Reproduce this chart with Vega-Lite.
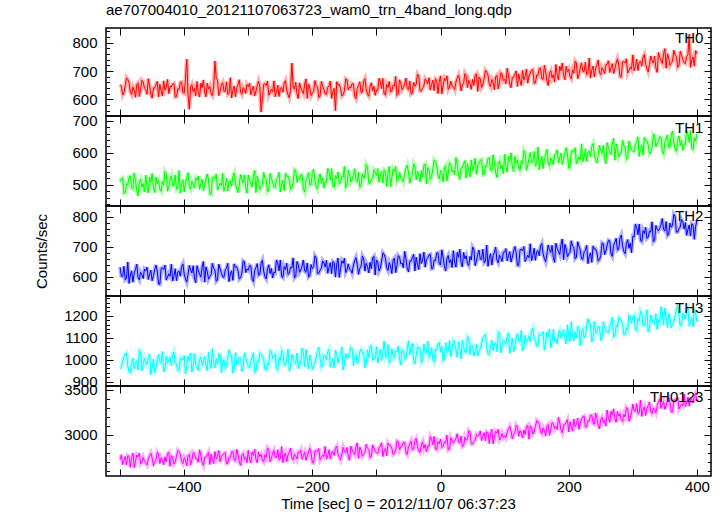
{
"$schema": "https://vega.github.io/schema/vega-lite/v6.json",
"padding": {"left": 34, "top": 2, "right": 5, "bottom": 2},
"spacing": 0,
"bounds": "flush",
"config": {
  "view": {"stroke": "#000", "strokeWidth": 1.5},
  "axis": {"domain": false, "grid": false, "format": "d", "labelFont": "Liberation Sans", "labelFontSize": 15, "labelColor": "#000", "tickColor": "#000", "tickWidth": 1, "labelOverlap": false, "labelFlush": false, "titleFont": "Liberation Sans", "titleFontSize": 15, "titleFontWeight": "normal", "titleColor": "#000"},
  "title": {"font": "Liberation Sans", "fontSize": 15, "fontWeight": "normal", "color": "#000"}
},
"data": {"values": [
{"t":-500,"a":652,"b":510,"c":632,"d":958,"e":2726},
{"t":-496,"a":615,"b":522,"c":601,"d":993,"e":2673},
{"t":-492,"a":648,"b":475,"c":590,"d":1025,"e":2760},
{"t":-488,"a":670,"b":501,"c":649,"d":971,"e":2770},
{"t":-484,"a":626,"b":527,"c":606,"d":940,"e":2640},
{"t":-480,"a":643,"b":487,"c":582,"d":1006,"e":2798},
{"t":-476,"a":607,"b":513,"c":625,"d":988,"e":2710},
{"t":-472,"a":658,"b":466,"c":598,"d":953,"e":2756},
{"t":-468,"a":634,"b":518,"c":615,"d":1037,"e":2678},
{"t":-464,"a":662,"b":504,"c":594,"d":979,"e":2750},
{"t":-460,"a":634,"b":530,"c":620,"d":989,"e":2692},
{"t":-456,"a":673,"b":475,"c":591,"d":1009,"e":2734},
{"t":-452,"a":617,"b":508,"c":622,"d":932,"e":2796},
{"t":-448,"a":640,"b":491,"c":604,"d":1002,"e":2656},
{"t":-444,"a":652,"b":524,"c":639,"d":963,"e":2724},
{"t":-440,"a":608,"b":513,"c":576,"d":1023,"e":2786},
{"t":-436,"a":629,"b":480,"c":628,"d":984,"e":2749},
{"t":-432,"a":665,"b":499,"c":624,"d":945,"e":2669},
{"t":-428,"a":643,"b":535,"c":589,"d":1015,"e":2704},
{"t":-424,"a":620,"b":494,"c":610,"d":997,"e":2806},
{"t":-420,"a":644,"b":528,"c":642,"d":973,"e":2770},
{"t":-416,"a":656,"b":497,"c":601,"d":1034,"e":2678},
{"t":-412,"a":609,"b":486,"c":587,"d":980,"e":2760},
{"t":-408,"a":635,"b":545,"c":619,"d":952,"e":2815},
{"t":-404,"a":661,"b":502,"c":634,"d":1002,"e":2705},
{"t":-400,"a":621,"b":478,"c":609,"d":1018,"e":2748},
{"t":-396,"a":742,"b":521,"c":582,"d":968,"e":2658},
{"t":-392,"a":565,"b":494,"c":638,"d":994,"e":2785},
{"t":-388,"a":652,"b":511,"c":613,"d":944,"e":2725},
{"t":-384,"a":638,"b":490,"c":596,"d":1027,"e":2795},
{"t":-380,"a":663,"b":515,"c":637,"d":968,"e":2737},
{"t":-376,"a":608,"b":486,"c":609,"d":999,"e":2835},
{"t":-372,"a":641,"b":517,"c":633,"d":974,"e":2695},
{"t":-368,"a":624,"b":499,"c":582,"d":1014,"e":2752},
{"t":-364,"a":657,"b":534,"c":618,"d":950,"e":2782},
{"t":-360,"a":646,"b":471,"c":601,"d":985,"e":2672},
{"t":-356,"a":613,"b":523,"c":645,"d":1050,"e":2725},
{"t":-352,"a":735,"b":519,"c":623,"d":962,"e":2815},
{"t":-348,"a":668,"b":484,"c":590,"d":978,"e":2759},
{"t":-344,"a":627,"b":505,"c":627,"d":1024,"e":2702},
{"t":-340,"a":659,"b":536,"c":600,"d":989,"e":2772},
{"t":-336,"a":628,"b":495,"c":623,"d":958,"e":2802},
{"t":-332,"a":617,"b":481,"c":645,"d":1011,"e":2684},
{"t":-328,"a":676,"b":513,"c":609,"d":1017,"e":2749},
{"t":-324,"a":633,"b":528,"c":588,"d":939,"e":2814},
{"t":-320,"a":609,"b":503,"c":632,"d":1033,"e":2714},
{"t":-316,"a":652,"b":476,"c":620,"d":981,"e":2779},
{"t":-312,"a":625,"b":532,"c":597,"d":1007,"e":2662},
{"t":-308,"a":642,"b":507,"c":653,"d":961,"e":2792},
{"t":-304,"a":621,"b":490,"c":614,"d":1005,"e":2756},
{"t":-300,"a":645,"b":531,"c":622,"d":967,"e":2827},
{"t":-296,"a":616,"b":503,"c":636,"d":993,"e":2690},
{"t":-292,"a":647,"b":527,"c":584,"d":1031,"e":2772},
{"t":-288,"a":629,"b":476,"c":631,"d":947,"e":2730},
{"t":-284,"a":664,"b":512,"c":605,"d":987,"e":2812},
{"t":-280,"a":555,"b":495,"c":645,"d":1025,"e":2784},
{"t":-276,"a":653,"b":539,"c":619,"d":1002,"e":2702},
{"t":-272,"a":649,"b":517,"c":593,"d":954,"e":2750},
{"t":-268,"a":614,"b":484,"c":640,"d":975,"e":2840},
{"t":-264,"a":635,"b":521,"c":628,"d":1037,"e":2737},
{"t":-260,"a":665,"b":494,"c":615,"d":1015,"e":2829},
{"t":-256,"a":624,"b":517,"c":656,"d":959,"e":2751},
{"t":-252,"a":610,"b":539,"c":620,"d":1009,"e":2723},
{"t":-248,"a":642,"b":503,"c":601,"d":1042,"e":2871},
{"t":-244,"a":657,"b":482,"c":634,"d":976,"e":2763},
{"t":-240,"a":632,"b":526,"c":645,"d":1002,"e":2703},
{"t":-236,"a":605,"b":514,"c":612,"d":947,"e":2811},
{"t":-232,"a":728,"b":491,"c":629,"d":1024,"e":2743},
{"t":-228,"a":636,"b":547,"c":596,"d":988,"e":2786},
{"t":-224,"a":619,"b":508,"c":651,"d":1030,"e":2733},
{"t":-220,"a":658,"b":516,"c":615,"d":994,"e":2802},
{"t":-216,"a":630,"b":530,"c":636,"d":1052,"e":2730},
{"t":-212,"a":654,"b":478,"c":619,"d":968,"e":2808},
{"t":-208,"a":603,"b":525,"c":646,"d":1003,"e":2762},
{"t":-204,"a":639,"b":499,"c":603,"d":1021,"e":2850},
{"t":-200,"a":622,"b":539,"c":627,"d":955,"e":2692},
{"t":-196,"a":666,"b":513,"c":670,"d":986,"e":2822},
{"t":-192,"a":644,"b":487,"c":611,"d":1040,"e":2812},
{"t":-188,"a":611,"b":534,"c":622,"d":1008,"e":2725},
{"t":-184,"a":648,"b":522,"c":653,"d":973,"e":2778},
{"t":-180,"a":619,"b":510,"c":633,"d":1018,"e":2872},
{"t":-176,"a":642,"b":551,"c":612,"d":1036,"e":2770},
{"t":-172,"a":664,"b":515,"c":647,"d":966,"e":2735},
{"t":-168,"a":628,"b":496,"c":651,"d":1005,"e":2815},
{"t":-164,"a":560,"b":529,"c":599,"d":1044,"e":2852},
{"t":-160,"a":651,"b":540,"c":662,"d":984,"e":2790},
{"t":-156,"a":639,"b":507,"c":627,"d":1023,"e":2722},
{"t":-152,"a":616,"b":524,"c":645,"d":953,"e":2862},
{"t":-148,"a":672,"b":491,"c":614,"d":1030,"e":2800},
{"t":-144,"a":633,"b":546,"c":643,"d":1010,"e":2758},
{"t":-140,"a":640,"b":509,"c":622,"d":1056,"e":2876},
{"t":-136,"a":654,"b":530,"c":639,"d":973,"e":2806},
{"t":-132,"a":602,"b":513,"c":664,"d":1023,"e":2866},
{"t":-128,"a":649,"b":540,"c":608,"d":997,"e":2739},
{"t":-124,"a":623,"b":497,"c":635,"d":1047,"e":2829},
{"t":-120,"a":663,"b":521,"c":660,"d":1031,"e":2786},
{"t":-116,"a":637,"b":564,"c":645,"d":981,"e":2896},
{"t":-112,"a":611,"b":505,"c":613,"d":1009,"e":2841},
{"t":-108,"a":658,"b":516,"c":627,"d":1063,"e":2759},
{"t":-104,"a":646,"b":547,"c":668,"d":1002,"e":2851},
{"t":-100,"a":633,"b":529,"c":656,"d":1059,"e":2801},
{"t":-96,"a":674,"b":508,"c":619,"d":1013,"e":2858},
{"t":-92,"a":638,"b":543,"c":652,"d":997,"e":2914},
{"t":-88,"a":619,"b":547,"c":674,"d":1085,"e":2824},
{"t":-84,"a":652,"b":495,"c":630,"d":1020,"e":2771},
{"t":-80,"a":663,"b":558,"c":647,"d":985,"e":2881},
{"t":-76,"a":630,"b":523,"c":611,"d":1049,"e":2851},
{"t":-72,"a":647,"b":541,"c":662,"d":1009,"e":2794},
{"t":-68,"a":614,"b":510,"c":638,"d":1034,"e":2934},
{"t":-64,"a":669,"b":539,"c":666,"d":1003,"e":2836},
{"t":-60,"a":634,"b":519,"c":646,"d":1046,"e":2877},
{"t":-56,"a":655,"b":536,"c":685,"d":1002,"e":2913},
{"t":-52,"a":638,"b":561,"c":629,"d":1048,"e":2783},
{"t":-48,"a":665,"b":505,"c":652,"d":1022,"e":2900},
{"t":-44,"a":622,"b":532,"c":664,"d":1074,"e":2835},
{"t":-40,"a":646,"b":557,"c":620,"d":980,"e":2935},
{"t":-36,"a":689,"b":542,"c":641,"d":1058,"e":2870},
{"t":-32,"a":630,"b":510,"c":677,"d":1052,"e":2805},
{"t":-28,"a":641,"b":524,"c":655,"d":999,"e":2923},
{"t":-24,"a":672,"b":565,"c":632,"d":1030,"e":2893},
{"t":-20,"a":654,"b":554,"c":663,"d":1084,"e":2879},
{"t":-16,"a":633,"b":517,"c":675,"d":1022,"e":2982},
{"t":-12,"a":668,"b":550,"c":628,"d":1001,"e":2892},
{"t":-8,"a":672,"b":572,"c":654,"d":1049,"e":2844},
{"t":-4,"a":620,"b":528,"c":680,"d":1072,"e":2926},
{"t":0,"a":683,"b":545,"c":640,"d":1034,"e":2954},
{"t":4,"a":648,"b":509,"c":666,"d":994,"e":2872},
{"t":8,"a":666,"b":560,"c":619,"d":1078,"e":2914},
{"t":12,"a":635,"b":536,"c":671,"d":1040,"e":2832},
{"t":16,"a":664,"b":564,"c":657,"d":1014,"e":2969},
{"t":20,"a":644,"b":547,"c":687,"d":1087,"e":2910},
{"t":24,"a":661,"b":586,"c":632,"d":1045,"e":2963},
{"t":28,"a":686,"b":530,"c":665,"d":1081,"e":2920},
{"t":32,"a":630,"b":553,"c":648,"d":1004,"e":2988},
{"t":36,"a":657,"b":565,"c":681,"d":1059,"e":2880},
{"t":40,"a":682,"b":521,"c":670,"d":1033,"e":2940},
{"t":44,"a":667,"b":542,"c":637,"d":1099,"e":3048},
{"t":48,"a":635,"b":578,"c":656,"d":1066,"e":2900},
{"t":52,"a":649,"b":556,"c":692,"d":1016,"e":2928},
{"t":56,"a":690,"b":533,"c":651,"d":1072,"e":3006},
{"t":60,"a":679,"b":567,"c":689,"d":1041,"e":2991},
{"t":64,"a":642,"b":579,"c":658,"d":1076,"e":2938},
{"t":68,"a":675,"b":532,"c":647,"d":1108,"e":3025},
{"t":72,"a":697,"b":558,"c":706,"d":1054,"e":3035},
{"t":76,"a":653,"b":584,"c":663,"d":1023,"e":2905},
{"t":80,"a":670,"b":544,"c":639,"d":1089,"e":3063},
{"t":84,"a":634,"b":570,"c":682,"d":1071,"e":2975},
{"t":88,"a":685,"b":523,"c":655,"d":1036,"e":3021},
{"t":92,"a":661,"b":575,"c":672,"d":1120,"e":2943},
{"t":96,"a":689,"b":561,"c":651,"d":1062,"e":3015},
{"t":100,"a":671,"b":595,"c":682,"d":1085,"e":2993},
{"t":104,"a":710,"b":540,"c":653,"d":1105,"e":3035},
{"t":108,"a":654,"b":573,"c":684,"d":1028,"e":3097},
{"t":112,"a":677,"b":556,"c":666,"d":1098,"e":2957},
{"t":116,"a":689,"b":589,"c":701,"d":1059,"e":3025},
{"t":120,"a":645,"b":578,"c":638,"d":1119,"e":3087},
{"t":124,"a":666,"b":545,"c":690,"d":1080,"e":3050},
{"t":128,"a":702,"b":564,"c":686,"d":1041,"e":2970},
{"t":132,"a":680,"b":600,"c":651,"d":1111,"e":3005},
{"t":136,"a":657,"b":559,"c":672,"d":1093,"e":3107},
{"t":140,"a":693,"b":601,"c":710,"d":1083,"e":3101},
{"t":144,"a":705,"b":570,"c":669,"d":1144,"e":3009},
{"t":148,"a":658,"b":559,"c":655,"d":1090,"e":3091},
{"t":152,"a":684,"b":618,"c":687,"d":1062,"e":3146},
{"t":156,"a":710,"b":575,"c":702,"d":1112,"e":3036},
{"t":160,"a":670,"b":551,"c":677,"d":1128,"e":3079},
{"t":164,"a":696,"b":594,"c":650,"d":1078,"e":2989},
{"t":168,"a":649,"b":567,"c":706,"d":1104,"e":3116},
{"t":172,"a":701,"b":584,"c":681,"d":1054,"e":3056},
{"t":176,"a":687,"b":563,"c":664,"d":1137,"e":3126},
{"t":180,"a":723,"b":597,"c":712,"d":1091,"e":3098},
{"t":184,"a":668,"b":568,"c":684,"d":1122,"e":3196},
{"t":188,"a":701,"b":599,"c":708,"d":1097,"e":3056},
{"t":192,"a":684,"b":581,"c":657,"d":1137,"e":3113},
{"t":196,"a":717,"b":616,"c":693,"d":1073,"e":3143},
{"t":200,"a":706,"b":553,"c":676,"d":1108,"e":3033},
{"t":204,"a":673,"b":605,"c":720,"d":1173,"e":3086},
{"t":208,"a":692,"b":601,"c":698,"d":1085,"e":3176},
{"t":212,"a":728,"b":566,"c":665,"d":1101,"e":3120},
{"t":216,"a":687,"b":587,"c":702,"d":1147,"e":3063},
{"t":220,"a":729,"b":628,"c":660,"d":1131,"e":3178},
{"t":224,"a":698,"b":587,"c":683,"d":1100,"e":3208},
{"t":228,"a":687,"b":573,"c":705,"d":1153,"e":3090},
{"t":232,"a":746,"b":605,"c":669,"d":1159,"e":3155},
{"t":236,"a":703,"b":620,"c":648,"d":1081,"e":3220},
{"t":240,"a":679,"b":595,"c":692,"d":1175,"e":3120},
{"t":244,"a":722,"b":568,"c":680,"d":1123,"e":3185},
{"t":248,"a":695,"b":624,"c":657,"d":1149,"e":3068},
{"t":252,"a":712,"b":599,"c":713,"d":1103,"e":3198},
{"t":256,"a":691,"b":582,"c":674,"d":1147,"e":3162},
{"t":260,"a":724,"b":632,"c":706,"d":1128,"e":3277},
{"t":264,"a":695,"b":604,"c":720,"d":1154,"e":3140},
{"t":268,"a":726,"b":628,"c":668,"d":1192,"e":3222},
{"t":272,"a":708,"b":577,"c":715,"d":1108,"e":3180},
{"t":276,"a":743,"b":613,"c":689,"d":1148,"e":3262},
{"t":280,"a":680,"b":596,"c":729,"d":1186,"e":3234},
{"t":284,"a":732,"b":640,"c":703,"d":1163,"e":3152},
{"t":288,"a":728,"b":618,"c":677,"d":1115,"e":3200},
{"t":292,"a":693,"b":585,"c":724,"d":1136,"e":3290},
{"t":296,"a":714,"b":622,"c":712,"d":1198,"e":3187},
{"t":300,"a":757,"b":605,"c":735,"d":1194,"e":3343},
{"t":304,"a":716,"b":628,"c":776,"d":1138,"e":3265},
{"t":308,"a":702,"b":650,"c":740,"d":1188,"e":3237},
{"t":312,"a":734,"b":614,"c":721,"d":1221,"e":3385},
{"t":316,"a":749,"b":593,"c":754,"d":1155,"e":3277},
{"t":320,"a":724,"b":637,"c":765,"d":1181,"e":3217},
{"t":324,"a":697,"b":625,"c":732,"d":1126,"e":3325},
{"t":328,"a":753,"b":602,"c":749,"d":1203,"e":3257},
{"t":332,"a":728,"b":658,"c":716,"d":1167,"e":3300},
{"t":336,"a":711,"b":619,"c":771,"d":1209,"e":3247},
{"t":340,"a":765,"b":634,"c":753,"d":1183,"e":3367},
{"t":344,"a":737,"b":648,"c":774,"d":1241,"e":3295},
{"t":348,"a":761,"b":596,"c":757,"d":1157,"e":3373},
{"t":352,"a":710,"b":643,"c":784,"d":1192,"e":3327},
{"t":356,"a":746,"b":617,"c":741,"d":1210,"e":3415},
{"t":360,"a":729,"b":657,"c":765,"d":1144,"e":3257},
{"t":364,"a":773,"b":631,"c":808,"d":1175,"e":3387},
{"t":368,"a":751,"b":605,"c":749,"d":1229,"e":3377},
{"t":372,"a":718,"b":652,"c":760,"d":1197,"e":3290},
{"t":376,"a":755,"b":640,"c":791,"d":1162,"e":3343},
{"t":380,"a":729,"b":628,"c":759,"d":1205,"e":3457},
{"t":384,"a":752,"b":669,"c":738,"d":1223,"e":3355},
{"t":388,"a":830,"b":633,"c":773,"d":1153,"e":3320},
{"t":392,"a":738,"b":614,"c":777,"d":1192,"e":3400},
{"t":396,"a":717,"b":647,"c":725,"d":1231,"e":3437},
{"t":400,"a":761,"b":658,"c":788,"d":1171,"e":3375},
{"t":-498,"a":645,"b":520,"c":602,"d":967,"e":2780},
{"t":-494,"a":624,"b":474,"c":635,"d":1015,"e":2720},
{"t":-490,"a":676,"b":503,"c":594,"d":1031,"e":2668},
{"t":-486,"a":658,"b":526,"c":578,"d":943,"e":2760},
{"t":-482,"a":617,"b":490,"c":620,"d":983,"e":2748},
{"t":-478,"a":632,"b":537,"c":613,"d":959,"e":2638},
{"t":-474,"a":652,"b":482,"c":642,"d":995,"e":2776},
{"t":-470,"a":610,"b":509,"c":590,"d":1042,"e":2798},
{"t":-466,"a":667,"b":493,"c":607,"d":949,"e":2698},
{"t":-462,"a":639,"b":478,"c":625,"d":1006,"e":2706},
{"t":-458,"a":618,"b":492,"c":632,"d":977,"e":2666},
{"t":-454,"a":648,"b":524,"c":608,"d":1026,"e":2769},
{"t":-450,"a":604,"b":535,"c":587,"d":965,"e":2742},
{"t":-446,"a":640,"b":476,"c":624,"d":941,"e":2706},
{"t":-442,"a":663,"b":503,"c":619,"d":1003,"e":2809},
{"t":-438,"a":653,"b":487,"c":575,"d":993,"e":2684},
{"t":-434,"a":612,"b":511,"c":630,"d":1037,"e":2722},
{"t":-430,"a":632,"b":542,"c":639,"d":959,"e":2756},
{"t":-426,"a":670,"b":480,"c":599,"d":984,"e":2794},
{"t":-422,"a":646,"b":518,"c":602,"d":1011,"e":2652},
{"t":-418,"a":654,"b":498,"c":586,"d":1020,"e":2752},
{"t":-414,"a":608,"b":531,"c":627,"d":984,"e":2700},
{"t":-410,"a":637,"b":490,"c":616,"d":952,"e":2830},
{"t":-406,"a":660,"b":474,"c":602,"d":1008,"e":2785},
{"t":-402,"a":624,"b":516,"c":643,"d":1000,"e":2682},
{"t":-398,"a":671,"b":509,"c":593,"d":934,"e":2720},
{"t":-394,"a":616,"b":538,"c":608,"d":1016,"e":2770},
{"t":-390,"a":643,"b":486,"c":622,"d":1030,"e":2665},
{"t":-386,"a":627,"b":503,"c":637,"d":970,"e":2808},
{"t":-382,"a":612,"b":521,"c":580,"d":974,"e":2738},
{"t":-378,"a":625,"b":527,"c":620,"d":950,"e":2697},
{"t":-374,"a":657,"b":503,"c":599,"d":1011,"e":2772},
{"t":-370,"a":668,"b":482,"c":651,"d":994,"e":2662},
{"t":-366,"a":609,"b":519,"c":633,"d":974,"e":2752},
{"t":-362,"a":636,"b":514,"c":592,"d":1035,"e":2809},
{"t":-358,"a":620,"b":470,"c":607,"d":960,"e":2785},
{"t":-354,"a":644,"b":525,"c":627,"d":982,"e":2682},
{"t":-350,"a":675,"b":534,"c":585,"d":1004,"e":2732},
{"t":-346,"a":613,"b":494,"c":642,"d":1026,"e":2827},
{"t":-342,"a":651,"b":497,"c":614,"d":940,"e":2767},
{"t":-338,"a":629,"b":480,"c":598,"d":999,"e":2796},
{"t":-334,"a":662,"b":521,"c":628,"d":967,"e":2682},
{"t":-330,"a":621,"b":510,"c":584,"d":1045,"e":2754},
{"t":-326,"a":605,"b":496,"c":620,"d":1018,"e":2812},
{"t":-322,"a":647,"b":537,"c":643,"d":957,"e":2722},
{"t":-318,"a":640,"b":487,"c":633,"d":979,"e":2839},
{"t":-314,"a":669,"b":502,"c":592,"d":1009,"e":2702},
{"t":-310,"a":617,"b":516,"c":612,"d":946,"e":2769},
{"t":-306,"a":634,"b":531,"c":650,"d":1031,"e":2729},
{"t":-302,"a":652,"b":474,"c":626,"d":989,"e":2692},
{"t":-298,"a":657,"b":514,"c":638,"d":963,"e":2732},
{"t":-294,"a":633,"b":493,"c":592,"d":1008,"e":2812},
{"t":-290,"a":612,"b":545,"c":621,"d":942,"e":2840},
{"t":-286,"a":649,"b":527,"c":644,"d":996,"e":2692},
{"t":-282,"a":644,"b":486,"c":608,"d":1031,"e":2760},
{"t":-278,"a":600,"b":501,"c":655,"d":1015,"e":2720},
{"t":-274,"a":655,"b":521,"c":600,"d":954,"e":2780},
{"t":-270,"a":664,"b":479,"c":627,"d":984,"e":2857},
{"t":-266,"a":624,"b":536,"c":611,"d":1041,"e":2702},
{"t":-262,"a":627,"b":508,"c":596,"d":1005,"e":2797},
{"t":-258,"a":609,"b":492,"c":613,"d":1023,"e":2753},
{"t":-254,"a":650,"b":522,"c":645,"d":953,"e":2836},
{"t":-250,"a":639,"b":478,"c":656,"d":997,"e":2733},
{"t":-246,"a":625,"b":514,"c":597,"d":1031,"e":2693},
{"t":-242,"a":666,"b":537,"c":624,"d":977,"e":2799},
{"t":-238,"a":616,"b":527,"c":608,"d":1048,"e":2781},
{"t":-234,"a":631,"b":486,"c":632,"d":965,"e":2853},
{"t":-230,"a":645,"b":506,"c":663,"d":1006,"e":2723},
{"t":-226,"a":660,"b":544,"c":601,"d":982,"e":2766},
{"t":-222,"a":603,"b":520,"c":639,"d":959,"e":2811},
{"t":-218,"a":641,"b":532,"c":623,"d":982,"e":2832},
{"t":-214,"a":620,"b":486,"c":656,"d":1030,"e":2772},
{"t":-210,"a":672,"b":515,"c":615,"d":1046,"e":2720},
{"t":-206,"a":654,"b":538,"c":599,"d":958,"e":2812},
{"t":-202,"a":613,"b":502,"c":641,"d":998,"e":2800},
{"t":-198,"a":628,"b":549,"c":634,"d":974,"e":2690},
{"t":-194,"a":648,"b":494,"c":663,"d":1010,"e":2828},
{"t":-190,"a":606,"b":521,"c":611,"d":1057,"e":2850},
{"t":-186,"a":663,"b":505,"c":628,"d":964,"e":2750},
{"t":-182,"a":635,"b":490,"c":646,"d":1021,"e":2758},
{"t":-178,"a":617,"b":508,"c":655,"d":998,"e":2732},
{"t":-174,"a":647,"b":540,"c":631,"d":1047,"e":2835},
{"t":-170,"a":603,"b":551,"c":610,"d":986,"e":2808},
{"t":-166,"a":639,"b":492,"c":647,"d":962,"e":2772},
{"t":-162,"a":662,"b":519,"c":642,"d":1024,"e":2875},
{"t":-158,"a":652,"b":503,"c":598,"d":1014,"e":2750},
{"t":-154,"a":611,"b":527,"c":653,"d":1058,"e":2788},
{"t":-150,"a":631,"b":558,"c":662,"d":980,"e":2822},
{"t":-146,"a":669,"b":496,"c":622,"d":1005,"e":2860},
{"t":-142,"a":645,"b":534,"c":625,"d":1032,"e":2718},
{"t":-138,"a":656,"b":517,"c":612,"d":1049,"e":2833},
{"t":-134,"a":610,"b":550,"c":653,"d":1013,"e":2781},
{"t":-130,"a":639,"b":509,"c":642,"d":981,"e":2911},
{"t":-126,"a":662,"b":493,"c":628,"d":1037,"e":2866},
{"t":-122,"a":626,"b":535,"c":669,"d":1029,"e":2763},
{"t":-118,"a":673,"b":528,"c":619,"d":963,"e":2801},
{"t":-114,"a":618,"b":557,"c":634,"d":1045,"e":2851},
{"t":-110,"a":645,"b":505,"c":648,"d":1059,"e":2746},
{"t":-106,"a":629,"b":522,"c":663,"d":999,"e":2889},
{"t":-102,"a":614,"b":540,"c":606,"d":1003,"e":2819},
{"t":-98,"a":631,"b":551,"c":649,"d":985,"e":2796},
{"t":-94,"a":663,"b":527,"c":628,"d":1046,"e":2871},
{"t":-90,"a":674,"b":506,"c":680,"d":1029,"e":2761},
{"t":-86,"a":615,"b":543,"c":662,"d":1009,"e":2851},
{"t":-82,"a":642,"b":538,"c":621,"d":1070,"e":2908},
{"t":-78,"a":626,"b":494,"c":636,"d":995,"e":2884},
{"t":-74,"a":650,"b":549,"c":656,"d":1017,"e":2781},
{"t":-70,"a":681,"b":558,"c":614,"d":1039,"e":2831},
{"t":-66,"a":619,"b":518,"c":671,"d":1061,"e":2926},
{"t":-62,"a":657,"b":521,"c":643,"d":975,"e":2866},
{"t":-58,"a":642,"b":509,"c":630,"d":1040,"e":2917},
{"t":-54,"a":675,"b":550,"c":660,"d":1008,"e":2803},
{"t":-50,"a":634,"b":539,"c":616,"d":1086,"e":2875},
{"t":-46,"a":618,"b":525,"c":652,"d":1059,"e":2933},
{"t":-42,"a":660,"b":566,"c":675,"d":998,"e":2843},
{"t":-38,"a":653,"b":516,"c":665,"d":1020,"e":2960},
{"t":-34,"a":682,"b":531,"c":624,"d":1050,"e":2823},
{"t":-30,"a":630,"b":545,"c":644,"d":987,"e":2890},
{"t":-26,"a":647,"b":560,"c":682,"d":1072,"e":2850},
{"t":-22,"a":665,"b":503,"c":658,"d":1030,"e":2813},
{"t":-18,"a":676,"b":547,"c":673,"d":1010,"e":2874},
{"t":-14,"a":652,"b":526,"c":627,"d":1055,"e":2954},
{"t":-10,"a":631,"b":578,"c":656,"d":989,"e":2982},
{"t":-6,"a":668,"b":560,"c":679,"d":1043,"e":2834},
{"t":-2,"a":663,"b":519,"c":643,"d":1078,"e":2902},
{"t":2,"a":619,"b":534,"c":690,"d":1062,"e":2862},
{"t":6,"a":674,"b":554,"c":635,"d":1001,"e":2922},
{"t":10,"a":683,"b":512,"c":662,"d":1031,"e":2999},
{"t":14,"a":643,"b":569,"c":646,"d":1088,"e":2844},
{"t":18,"a":646,"b":541,"c":631,"d":1052,"e":2939},
{"t":22,"a":634,"b":531,"c":649,"d":1080,"e":2930},
{"t":26,"a":675,"b":561,"c":681,"d":1010,"e":3013},
{"t":30,"a":664,"b":517,"c":692,"d":1054,"e":2910},
{"t":34,"a":650,"b":553,"c":633,"d":1088,"e":2870},
{"t":38,"a":691,"b":576,"c":660,"d":1034,"e":2976},
{"t":42,"a":641,"b":566,"c":644,"d":1105,"e":2958},
{"t":46,"a":656,"b":525,"c":668,"d":1022,"e":3030},
{"t":50,"a":670,"b":545,"c":699,"d":1063,"e":2900},
{"t":54,"a":685,"b":583,"c":637,"d":1039,"e":2943},
{"t":58,"a":628,"b":559,"c":675,"d":1016,"e":2988},
{"t":62,"a":672,"b":577,"c":659,"d":1050,"e":3045},
{"t":66,"a":651,"b":531,"c":692,"d":1098,"e":2985},
{"t":70,"a":703,"b":560,"c":651,"d":1114,"e":2933},
{"t":74,"a":685,"b":583,"c":635,"d":1026,"e":3025},
{"t":78,"a":644,"b":547,"c":677,"d":1066,"e":3013},
{"t":82,"a":659,"b":594,"c":670,"d":1042,"e":2903},
{"t":86,"a":679,"b":539,"c":699,"d":1078,"e":3041},
{"t":90,"a":637,"b":566,"c":647,"d":1125,"e":3063},
{"t":94,"a":694,"b":550,"c":664,"d":1032,"e":2963},
{"t":98,"a":666,"b":535,"c":682,"d":1089,"e":2971},
{"t":102,"a":655,"b":557,"c":694,"d":1073,"e":2967},
{"t":106,"a":685,"b":589,"c":670,"d":1122,"e":3070},
{"t":110,"a":641,"b":600,"c":649,"d":1061,"e":3043},
{"t":114,"a":677,"b":541,"c":686,"d":1037,"e":3007},
{"t":118,"a":700,"b":568,"c":681,"d":1099,"e":3110},
{"t":122,"a":690,"b":552,"c":637,"d":1089,"e":2985},
{"t":126,"a":649,"b":576,"c":692,"d":1133,"e":3023},
{"t":130,"a":669,"b":607,"c":701,"d":1055,"e":3057},
{"t":134,"a":707,"b":545,"c":661,"d":1080,"e":3095},
{"t":138,"a":683,"b":583,"c":664,"d":1107,"e":2953},
{"t":142,"a":703,"b":571,"c":654,"d":1130,"e":3083},
{"t":146,"a":657,"b":604,"c":695,"d":1094,"e":3031},
{"t":150,"a":686,"b":563,"c":684,"d":1062,"e":3161},
{"t":154,"a":709,"b":547,"c":670,"d":1118,"e":3116},
{"t":158,"a":673,"b":589,"c":711,"d":1110,"e":3013},
{"t":162,"a":720,"b":582,"c":661,"d":1044,"e":3051},
{"t":166,"a":665,"b":611,"c":676,"d":1126,"e":3101},
{"t":170,"a":692,"b":559,"c":690,"d":1140,"e":2996},
{"t":174,"a":676,"b":576,"c":705,"d":1080,"e":3139},
{"t":178,"a":661,"b":594,"c":648,"d":1084,"e":3069},
{"t":182,"a":685,"b":609,"c":695,"d":1073,"e":3058},
{"t":186,"a":717,"b":585,"c":674,"d":1134,"e":3133},
{"t":190,"a":728,"b":564,"c":726,"d":1117,"e":3023},
{"t":194,"a":669,"b":601,"c":708,"d":1097,"e":3113},
{"t":198,"a":696,"b":596,"c":667,"d":1158,"e":3170},
{"t":202,"a":680,"b":552,"c":682,"d":1083,"e":3146},
{"t":206,"a":704,"b":607,"c":702,"d":1105,"e":3043},
{"t":210,"a":735,"b":616,"c":660,"d":1127,"e":3093},
{"t":214,"a":673,"b":576,"c":717,"d":1149,"e":3188},
{"t":218,"a":711,"b":579,"c":689,"d":1063,"e":3128},
{"t":222,"a":699,"b":572,"c":658,"d":1141,"e":3202},
{"t":226,"a":732,"b":613,"c":688,"d":1109,"e":3088},
{"t":230,"a":691,"b":602,"c":644,"d":1187,"e":3160},
{"t":234,"a":675,"b":588,"c":680,"d":1160,"e":3218},
{"t":238,"a":717,"b":629,"c":703,"d":1099,"e":3128},
{"t":242,"a":710,"b":579,"c":693,"d":1121,"e":3245},
{"t":246,"a":739,"b":594,"c":652,"d":1151,"e":3108},
{"t":250,"a":687,"b":608,"c":672,"d":1088,"e":3175},
{"t":254,"a":704,"b":623,"c":710,"d":1173,"e":3135},
{"t":258,"a":722,"b":566,"c":686,"d":1131,"e":3098},
{"t":262,"a":736,"b":615,"c":722,"d":1124,"e":3182},
{"t":266,"a":712,"b":594,"c":676,"d":1169,"e":3262},
{"t":270,"a":691,"b":646,"c":705,"d":1103,"e":3290},
{"t":274,"a":728,"b":628,"c":728,"d":1157,"e":3142},
{"t":278,"a":723,"b":587,"c":692,"d":1192,"e":3210},
{"t":282,"a":679,"b":602,"c":739,"d":1176,"e":3170},
{"t":286,"a":734,"b":622,"c":684,"d":1115,"e":3230},
{"t":290,"a":743,"b":580,"c":711,"d":1145,"e":3307},
{"t":294,"a":703,"b":637,"c":695,"d":1202,"e":3152},
{"t":298,"a":706,"b":609,"c":680,"d":1166,"e":3247},
{"t":302,"a":701,"b":603,"c":733,"d":1202,"e":3267},
{"t":306,"a":742,"b":633,"c":765,"d":1132,"e":3350},
{"t":310,"a":731,"b":589,"c":776,"d":1176,"e":3247},
{"t":314,"a":717,"b":625,"c":717,"d":1210,"e":3207},
{"t":318,"a":758,"b":648,"c":744,"d":1156,"e":3313},
{"t":322,"a":708,"b":638,"c":728,"d":1227,"e":3295},
{"t":326,"a":723,"b":597,"c":752,"d":1144,"e":3367},
{"t":330,"a":737,"b":617,"c":783,"d":1185,"e":3237},
{"t":334,"a":752,"b":655,"c":721,"d":1161,"e":3280},
{"t":338,"a":695,"b":631,"c":759,"d":1138,"e":3325},
{"t":342,"a":748,"b":650,"c":761,"d":1171,"e":3397},
{"t":346,"a":727,"b":604,"c":794,"d":1219,"e":3337},
{"t":350,"a":779,"b":633,"c":753,"d":1235,"e":3285},
{"t":354,"a":761,"b":656,"c":737,"d":1147,"e":3377},
{"t":358,"a":720,"b":620,"c":779,"d":1187,"e":3365},
{"t":362,"a":735,"b":667,"c":772,"d":1163,"e":3255},
{"t":366,"a":755,"b":612,"c":801,"d":1199,"e":3393},
{"t":370,"a":713,"b":639,"c":749,"d":1246,"e":3415},
{"t":374,"a":770,"b":623,"c":766,"d":1153,"e":3315},
{"t":378,"a":742,"b":608,"c":784,"d":1210,"e":3323},
{"t":382,"a":727,"b":626,"c":781,"d":1185,"e":3317},
{"t":386,"a":757,"b":658,"c":757,"d":1234,"e":3420},
{"t":390,"a":713,"b":669,"c":736,"d":1173,"e":3393},
{"t":394,"a":749,"b":610,"c":773,"d":1149,"e":3357},
{"t":398,"a":772,"b":637,"c":768,"d":1211,"e":3460}
]},
"vconcat": [
{
  "width": 605, "height": 88,
  "title": {"text": "ae707004010_20121107063723_wam0_trn_4band_long.qdp", "anchor": "start", "frame": "group", "offset": 6},
  "layer": [
    {"mark": {"type": "line", "color": "#ff0000", "strokeWidth": 4, "opacity": 0.3, "clip": true},
     "encoding": {
       "x": {"field": "t", "type": "quantitative", "scale": {"domain": [-522, 422], "nice": false, "zero": false},
             "axis": {"orient": "bottom", "values": [-500,-400,-300,-200,-100,0,100,200,300,400], "labels": false, "tickSize": -7, "title": null}},
       "y": {"field": "a", "type": "quantitative", "scale": {"domain": [541, 852], "nice": false, "zero": false},
             "axis": {"orient": "left", "values": [560,580,600,620,640,660,680,700,720,740,760,780,800,820,840], "labelExpr": "datum.value % 100 === 0 ? datum.label : ''", "tickSize": {"condition": {"test": "datum.value % 100 === 0", "value": -7}, "value": -3.5}, "labelPadding": 16, "title": null}}
     }},
    {"mark": {"type": "line", "color": "#ff0000", "strokeWidth": 1, "clip": true},
     "encoding": {
       "x": {"field": "t", "type": "quantitative", "axis": {"orient": "top", "values": [-500,-400,-300,-200,-100,0,100,200,300,400], "labels": false, "tickSize": -7, "title": null}},
       "y": {"field": "a", "type": "quantitative", "axis": {"orient": "right", "values": [560,580,600,620,640,660,680,700,720,740,760,780,800,820,840], "labels": false, "tickSize": {"condition": {"test": "datum.value % 100 === 0", "value": -7}, "value": -3.5}, "title": null}}
     }},
    {"data": {"values": [{"label": "TH0"}]},
     "mark": {"type": "text", "align": "right", "baseline": "alphabetic", "font": "Liberation Sans", "fontSize": 15, "color": "#000"},
     "encoding": {"x": {"datum": 410, "type": "quantitative", "axis": null}, "y": {"datum": 800, "type": "quantitative", "axis": null}, "text": {"field": "label"}}}
  ],
  "resolve": {"axis": {"x": "independent", "y": "independent"}}
},
{
  "width": 605, "height": 90,
  "layer": [
    {"mark": {"type": "line", "color": "#00ff00", "strokeWidth": 4, "opacity": 0.3, "clip": true},
     "encoding": {
       "x": {"field": "t", "type": "quantitative", "scale": {"domain": [-522, 422], "nice": false, "zero": false},
             "axis": {"orient": "bottom", "values": [-500,-400,-300,-200,-100,0,100,200,300,400], "labels": false, "tickSize": -7, "title": null}},
       "y": {"field": "b", "type": "quantitative", "scale": {"domain": [434, 715], "nice": false, "zero": false},
             "axis": {"orient": "left", "values": [440,460,480,500,520,540,560,580,600,620,640,660,680,700], "labelExpr": "datum.value % 100 === 0 ? datum.label : ''", "tickSize": {"condition": {"test": "datum.value % 100 === 0", "value": -7}, "value": -3.5}, "labelPadding": 16, "title": null}}
     }},
    {"mark": {"type": "line", "color": "#00ff00", "strokeWidth": 1, "clip": true},
     "encoding": {
       "x": {"field": "t", "type": "quantitative", "axis": {"orient": "top", "values": [-500,-400,-300,-200,-100,0,100,200,300,400], "labels": false, "tickSize": -7, "title": null}},
       "y": {"field": "b", "type": "quantitative", "axis": {"orient": "right", "values": [440,460,480,500,520,540,560,580,600,620,640,660,680,700], "labels": false, "tickSize": {"condition": {"test": "datum.value % 100 === 0", "value": -7}, "value": -3.5}, "title": null}}
     }},
    {"data": {"values": [{"label": "TH1"}]},
     "mark": {"type": "text", "align": "right", "baseline": "alphabetic", "font": "Liberation Sans", "fontSize": 15, "color": "#000"},
     "encoding": {"x": {"datum": 410, "type": "quantitative", "axis": null}, "y": {"datum": 662, "type": "quantitative", "axis": null}, "text": {"field": "label"}}}
  ],
  "resolve": {"axis": {"x": "independent", "y": "independent"}}
},
{
  "width": 605, "height": 90,
  "layer": [
    {"mark": {"type": "line", "color": "#0000ff", "strokeWidth": 4, "opacity": 0.3, "clip": true},
     "encoding": {
       "x": {"field": "t", "type": "quantitative", "scale": {"domain": [-522, 422], "nice": false, "zero": false},
             "axis": {"orient": "bottom", "values": [-500,-400,-300,-200,-100,0,100,200,300,400], "labels": false, "tickSize": -7, "title": null}},
       "y": {"field": "c", "type": "quantitative", "scale": {"domain": [536, 836], "nice": false, "zero": false},
             "axis": {"orient": "left", "values": [540,560,580,600,620,640,660,680,700,720,740,760,780,800,820], "labelExpr": "datum.value % 100 === 0 ? datum.label : ''", "tickSize": {"condition": {"test": "datum.value % 100 === 0", "value": -7}, "value": -3.5}, "labelPadding": 16, "title": "Counts/sec", "titlePadding": 22}}
     }},
    {"mark": {"type": "line", "color": "#0000ff", "strokeWidth": 1, "clip": true},
     "encoding": {
       "x": {"field": "t", "type": "quantitative", "axis": {"orient": "top", "values": [-500,-400,-300,-200,-100,0,100,200,300,400], "labels": false, "tickSize": -7, "title": null}},
       "y": {"field": "c", "type": "quantitative", "axis": {"orient": "right", "values": [540,560,580,600,620,640,660,680,700,720,740,760,780,800,820], "labels": false, "tickSize": {"condition": {"test": "datum.value % 100 === 0", "value": -7}, "value": -3.5}, "title": null}}
     }},
    {"data": {"values": [{"label": "TH2"}]},
     "mark": {"type": "text", "align": "right", "baseline": "alphabetic", "font": "Liberation Sans", "fontSize": 15, "color": "#000"},
     "encoding": {"x": {"datum": 410, "type": "quantitative", "axis": null}, "y": {"datum": 785, "type": "quantitative", "axis": null}, "text": {"field": "label"}}}
  ],
  "resolve": {"axis": {"x": "independent", "y": "independent"}}
},
{
  "width": 605, "height": 90,
  "layer": [
    {"mark": {"type": "line", "color": "#00ffff", "strokeWidth": 4, "opacity": 0.3, "clip": true},
     "encoding": {
       "x": {"field": "t", "type": "quantitative", "scale": {"domain": [-522, 422], "nice": false, "zero": false},
             "axis": {"orient": "bottom", "values": [-500,-400,-300,-200,-100,0,100,200,300,400], "labels": false, "tickSize": -7, "title": null}},
       "y": {"field": "d", "type": "quantitative", "scale": {"domain": [880, 1290], "nice": false, "zero": false},
             "axis": {"orient": "left", "values": [880,900,920,940,960,980,1000,1020,1040,1060,1080,1100,1120,1140,1160,1180,1200,1220,1240,1260,1280], "labelExpr": "datum.value % 100 === 0 ? datum.label : ''", "tickSize": {"condition": {"test": "datum.value % 100 === 0", "value": -7}, "value": -3.5}, "labelPadding": 16, "title": null}}
     }},
    {"mark": {"type": "line", "color": "#00ffff", "strokeWidth": 1, "clip": true},
     "encoding": {
       "x": {"field": "t", "type": "quantitative", "axis": {"orient": "top", "values": [-500,-400,-300,-200,-100,0,100,200,300,400], "labels": false, "tickSize": -7, "title": null}},
       "y": {"field": "d", "type": "quantitative", "axis": {"orient": "right", "values": [880,900,920,940,960,980,1000,1020,1040,1060,1080,1100,1120,1140,1160,1180,1200,1220,1240,1260,1280], "labels": false, "tickSize": {"condition": {"test": "datum.value % 100 === 0", "value": -7}, "value": -3.5}, "title": null}}
     }},
    {"data": {"values": [{"label": "TH3"}]},
     "mark": {"type": "text", "align": "right", "baseline": "alphabetic", "font": "Liberation Sans", "fontSize": 15, "color": "#000"},
     "encoding": {"x": {"datum": 410, "type": "quantitative", "axis": null}, "y": {"datum": 1214, "type": "quantitative", "axis": null}, "text": {"field": "label"}}}
  ],
  "resolve": {"axis": {"x": "independent", "y": "independent"}}
},
{
  "width": 605, "height": 90,
  "layer": [
    {"mark": {"type": "line", "color": "#ff00ff", "strokeWidth": 4, "opacity": 0.3, "clip": true},
     "encoding": {
       "x": {"field": "t", "type": "quantitative", "scale": {"domain": [-522, 422], "nice": false, "zero": false},
             "axis": {"orient": "bottom", "values": [-500,-400,-300,-200,-100,0,100,200,300,400], "labelExpr": "datum.value % 200 === 0 ? datum.label : ''", "tickSize": -7, "labelPadding": 10, "title": "Time [sec] 0 = 2012/11/07 06:37:23", "titlePadding": 2, "titleX": 292}},
       "y": {"field": "e", "type": "quantitative", "scale": {"domain": [2544, 3544], "nice": false, "zero": false},
             "axis": {"orient": "left", "values": [2600,2700,2800,2900,3000,3100,3200,3300,3400,3500], "labelExpr": "datum.value % 500 === 0 ? datum.label : ''", "tickSize": {"condition": {"test": "datum.value % 500 === 0", "value": -7}, "value": -3.5}, "labelPadding": 16, "title": null}}
     }},
    {"mark": {"type": "line", "color": "#ff00ff", "strokeWidth": 1, "clip": true},
     "encoding": {
       "x": {"field": "t", "type": "quantitative", "axis": {"orient": "top", "values": [-500,-400,-300,-200,-100,0,100,200,300,400], "labels": false, "tickSize": -7, "title": null}},
       "y": {"field": "e", "type": "quantitative", "axis": {"orient": "right", "values": [2600,2700,2800,2900,3000,3100,3200,3300,3400,3500], "labels": false, "tickSize": {"condition": {"test": "datum.value % 500 === 0", "value": -7}, "value": -3.5}, "title": null}}
     }},
    {"data": {"values": [{"label": "TH0123"}]},
     "mark": {"type": "text", "align": "right", "baseline": "alphabetic", "font": "Liberation Sans", "fontSize": 15, "color": "#000"},
     "encoding": {"x": {"datum": 410, "type": "quantitative", "axis": null}, "y": {"datum": 3370, "type": "quantitative", "axis": null}, "text": {"field": "label"}}}
  ],
  "resolve": {"axis": {"x": "independent", "y": "independent"}}
}
]
}
